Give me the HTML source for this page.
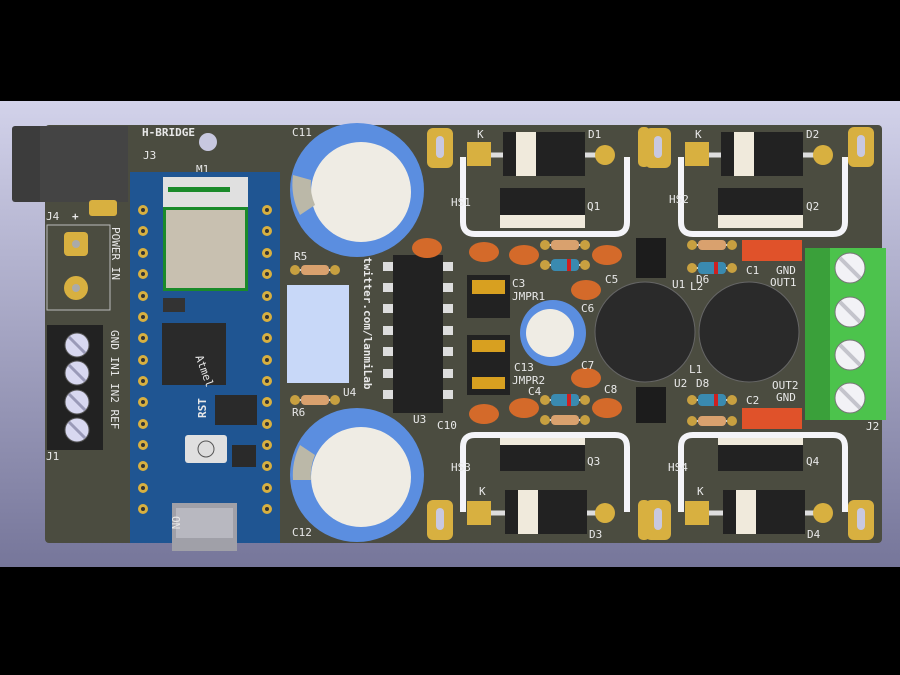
<!DOCTYPE html>
<html><head><meta charset="utf-8"><style>
html,body{margin:0;padding:0;background:#000;}
svg{display:block}
text{font-family:"DejaVu Sans Mono","Liberation Mono",monospace;fill:#e8e8e8;font-size:11px}
</style></head><body>
<svg width="900" height="675" viewBox="0 0 900 675" xmlns="http://www.w3.org/2000/svg">
<defs>
<linearGradient id="bg" x1="0" y1="0" x2="0" y2="1">
<stop offset="0" stop-color="#d2d2ea"/><stop offset="1" stop-color="#76769a"/></linearGradient>
<g id="scr"><circle r="12" fill="#d8d8f0" stroke="#555" stroke-width="1"/><line x1="-8" y1="-8" x2="8" y2="8" stroke="#9a9ab8" stroke-width="3"/></g>
<g id="wscr"><circle r="15" fill="#f2f2f6" stroke="#777" stroke-width="1"/><line x1="-10" y1="-10" x2="10" y2="10" stroke="#c4c4cc" stroke-width="4"/></g>
<g id="res"><line x1="-22" y1="0" x2="22" y2="0" stroke="#ccc" stroke-width="2"/><circle cx="-20" r="5" fill="#c8a040"/><circle cx="20" r="5" fill="#c8a040"/><rect x="-14" y="-5" width="28" height="10" rx="4" fill="#d9a16e"/></g>
<g id="dio"><line x1="-22" y1="0" x2="22" y2="0" stroke="#ccc" stroke-width="2"/><circle cx="-20" r="5" fill="#c8a040"/><circle cx="20" r="5" fill="#c8a040"/><rect x="-14" y="-6" width="28" height="12" rx="4" fill="#3a8ab0"/><rect x="2" y="-6" width="4" height="12" fill="#d02020"/></g>
<g id="cer"><ellipse rx="15" ry="10" fill="#d46a2a"/></g>
<g id="pin"><circle r="5" fill="#d8b040"/><circle r="2" fill="#333"/></g>
<g id="cellT">
<rect x="427" y="128" width="26" height="40" rx="6" fill="#d8b040"/><rect x="436" y="136" width="8" height="22" rx="4" fill="#c8c8e0"/>
<line x1="478" y1="155" x2="605" y2="155" stroke="#ddd" stroke-width="5"/>
<rect x="467" y="142" width="24" height="24" fill="#d8b040"/><circle cx="605" cy="155" r="10" fill="#d8b040"/>
<rect x="503" y="132" width="82" height="44" fill="#222"/><rect x="516" y="132" width="20" height="44" fill="#f0eadc"/>
<rect x="500" y="188" width="85" height="27" fill="#222"/><rect x="500" y="215" width="85" height="13" fill="#f0eadc"/>
<path d="M463,157 V222 Q463,234 475,234 H615 Q627,234 627,222 V157" fill="none" stroke="#f4f4f8" stroke-width="6"/>
<rect x="638" y="127" width="12" height="40" rx="5" fill="#d8b040"/>
</g>
<g id="cellB">
<rect x="427" y="500" width="26" height="40" rx="6" fill="#d8b040"/><rect x="436" y="508" width="8" height="22" rx="4" fill="#c8c8e0"/>
<line x1="478" y1="513" x2="605" y2="513" stroke="#ddd" stroke-width="5"/>
<rect x="467" y="501" width="24" height="24" fill="#d8b040"/><circle cx="605" cy="513" r="10" fill="#d8b040"/>
<rect x="505" y="490" width="82" height="44" fill="#222"/><rect x="518" y="490" width="20" height="44" fill="#f0eadc"/>
<rect x="500" y="444" width="85" height="27" fill="#222"/><rect x="500" y="434" width="85" height="11" fill="#f0eadc"/>
<path d="M463,512 V447 Q463,435 475,435 H615 Q627,435 627,447 V512" fill="none" stroke="#f4f4f8" stroke-width="6"/>
<rect x="638" y="500" width="12" height="40" rx="5" fill="#d8b040"/>
</g>
</defs>
<rect width="900" height="675" fill="#000"/>
<rect x="0" y="101" width="900" height="466" fill="url(#bg)"/>
<!-- board -->
<rect x="45" y="125" width="837" height="418" rx="4" fill="#4b4c40"/>
<!-- DC jack -->
<rect x="12" y="126" width="116" height="76" rx="3" fill="#3c3c3c"/>
<rect x="40" y="126" width="88" height="76" fill="#444"/>
<rect x="89" y="200" width="28" height="16" rx="3" fill="#d8b040"/>
<text x="142" y="136" font-weight="bold">H-BRIDGE</text>
<circle cx="208" cy="142" r="9" fill="#c8c8e0"/>
<text x="143" y="159">J3</text><text x="196" y="173">M1</text>
<!-- J4 -->
<rect x="47" y="225" width="63" height="85" fill="none" stroke="#bbb" stroke-width="1"/>
<text x="46" y="220">J4</text><text x="72" y="220" font-weight="bold">+</text>
<rect x="64" y="232" width="24" height="24" rx="4" fill="#d8b040"/><circle cx="76" cy="244" r="4" fill="#aaa"/>
<circle cx="76" cy="288" r="12" fill="#d8b040"/><circle cx="76" cy="288" r="4" fill="#aaa"/>
<text transform="translate(112,227) rotate(90)" font-size="12">POWER IN</text>
<!-- J1 -->
<rect x="47" y="325" width="56" height="125" fill="#222"/>
<use href="#scr" x="77" y="345"/><use href="#scr" x="77" y="373"/><use href="#scr" x="77" y="402"/><use href="#scr" x="77" y="430"/>
<text transform="translate(111,330) rotate(90)" font-size="12">GND IN1 IN2 REF</text>
<text x="46" y="460">J1</text>
<!-- Arduino -->
<rect x="130" y="172" width="150" height="371" fill="#1f5592"/>
<g id="pcol">
<use href="#pin" x="143" y="210"/><use href="#pin" x="143" y="231"/><use href="#pin" x="143" y="253"/><use href="#pin" x="143" y="274"/><use href="#pin" x="143" y="296"/><use href="#pin" x="143" y="317"/><use href="#pin" x="143" y="338"/><use href="#pin" x="143" y="360"/><use href="#pin" x="143" y="381"/><use href="#pin" x="143" y="402"/><use href="#pin" x="143" y="424"/><use href="#pin" x="143" y="445"/><use href="#pin" x="143" y="466"/><use href="#pin" x="143" y="488"/><use href="#pin" x="143" y="509"/>
</g>
<use href="#pcol" x="124"/>
<rect x="163" y="177" width="85" height="30" fill="#e0e0e0"/><rect x="168" y="187" width="62" height="5" fill="#1a8a2a"/>
<rect x="163" y="207" width="85" height="84" fill="#1a8a2a"/><rect x="166" y="210" width="79" height="78" fill="#c8c0b0"/>
<rect x="162" y="323" width="64" height="62" fill="#2a2a2a"/>
<text x="200" y="360" font-size="10" fill="#888" transform="rotate(70 200 355)">Atmel</text>
<rect x="215" y="395" width="42" height="30" fill="#2a2a2a"/>
<rect x="185" y="435" width="42" height="28" rx="3" fill="#e0e0e0"/><circle cx="206" cy="449" r="8" fill="#ddd" stroke="#555"/>
<rect x="232" y="445" width="24" height="22" fill="#2a2a2a"/>
<rect x="163" y="298" width="22" height="14" fill="#333"/>
<rect x="172" y="503" width="65" height="48" fill="#a0a0a8"/><rect x="176" y="508" width="57" height="30" fill="#b8b8c0"/>
<text transform="translate(206,418) rotate(-90)" font-size="11" font-weight="bold">RST</text>
<text transform="translate(172,516) rotate(90)" font-size="10">ON</text>
<!-- C11 C12 -->
<text x="292" y="136">C11</text>
<circle cx="357" cy="190" r="67" fill="#5b8ee0"/><circle cx="361" cy="192" r="50" fill="#efece4"/>
<path d="M293,175 A67,67 0 0,0 300,215 L315,205 A50,50 0 0,1 311,180Z" fill="#bbb8a8"/>
<text x="292" y="536">C12</text>
<circle cx="357" cy="475" r="67" fill="#5b8ee0"/><circle cx="361" cy="477" r="50" fill="#efece4"/>
<path d="M300,445 A67,67 0 0,0 293,480 L311,480 A50,50 0 0,1 315,455Z" fill="#bbb8a8"/>
<text x="294" y="260">R5</text><use href="#res" x="315" y="270"/>
<text x="292" y="416">R6</text><use href="#res" x="315" y="400"/>
<rect x="287" y="285" width="62" height="98" fill="#c8d8f8"/>
<text x="343" y="396">U4</text>
<text transform="translate(364,257) rotate(90)" font-size="14" font-weight="bold">twitter.com/lanmiLab</text>
<!-- U3 -->
<rect x="393" y="255" width="50" height="158" fill="#222"/>
<g fill="#ddd"><rect x="383" y="262" width="10" height="9"/><rect x="383" y="283" width="10" height="9"/><rect x="383" y="304" width="10" height="9"/><rect x="383" y="326" width="10" height="9"/><rect x="383" y="347" width="10" height="9"/><rect x="383" y="369" width="10" height="9"/><rect x="383" y="390" width="10" height="9"/>
<rect x="443" y="262" width="10" height="9"/><rect x="443" y="283" width="10" height="9"/><rect x="443" y="304" width="10" height="9"/><rect x="443" y="326" width="10" height="9"/><rect x="443" y="347" width="10" height="9"/><rect x="443" y="369" width="10" height="9"/><rect x="443" y="390" width="10" height="9"/></g>
<text x="413" y="423">U3</text>
<use href="#cer" x="427" y="248"/><use href="#cer" x="484" y="252"/><use href="#cer" x="484" y="414"/>
<text x="437" y="429">C10</text>
<!-- jumpers -->
<rect x="467" y="275" width="43" height="43" fill="#222"/><rect x="472" y="280" width="33" height="14" fill="#d8a020"/>
<rect x="467" y="335" width="43" height="60" fill="#222"/><rect x="472" y="340" width="33" height="12" fill="#d8a020"/><rect x="472" y="377" width="33" height="12" fill="#d8a020"/>
<text x="512" y="287">C3</text><text x="512" y="300">JMPR1</text>
<text x="514" y="371">C13</text><text x="512" y="384">JMPR2</text><text x="528" y="395">C4</text>
<circle cx="553" cy="333" r="33" fill="#5b8ee0"/><circle cx="550" cy="333" r="24" fill="#efece4"/>
<use href="#cer" x="524" y="255"/><use href="#cer" x="607" y="255"/><use href="#cer" x="586" y="290"/>
<use href="#cer" x="586" y="378"/><use href="#cer" x="524" y="408"/><use href="#cer" x="607" y="408"/>
<use href="#res" x="565" y="245"/><use href="#dio" x="565" y="265"/>
<use href="#dio" x="565" y="400"/><use href="#res" x="565" y="420"/>
<text x="605" y="283">C5</text><text x="581" y="312">C6</text><text x="581" y="369">C7</text><text x="604" y="393">C8</text>
<!-- U1 U2 -->
<rect x="636" y="238" width="30" height="40" fill="#1c1c1c"/><rect x="636" y="387" width="30" height="36" fill="#1c1c1c"/>
<circle cx="645" cy="332" r="50" fill="#2a2a2a" stroke="#666"/><circle cx="749" cy="332" r="50" fill="#2a2a2a" stroke="#666"/>
<text x="672" y="288">U1</text><text x="690" y="290">L2</text><text x="689" y="373">L1</text><text x="674" y="387">U2</text><text x="696" y="387">D8</text>
<text x="696" y="283">D6</text>
<use href="#res" x="712" y="245"/><use href="#dio" x="712" y="268"/>
<use href="#dio" x="712" y="400"/><use href="#res" x="712" y="421"/>
<rect x="742" y="240" width="60" height="21" fill="#e0522a"/><rect x="742" y="408" width="60" height="21" fill="#e0522a"/>
<text x="746" y="274">C1</text><text x="746" y="404">C2</text>
<text x="776" y="274">GND</text><text x="770" y="286">OUT1</text>
<text x="772" y="389">OUT2</text><text x="776" y="401">GND</text>
<!-- J2 -->
<rect x="805" y="248" width="81" height="172" fill="#4cc34c"/><rect x="805" y="248" width="25" height="172" fill="#3aa03a"/>
<use href="#wscr" x="850" y="268"/><use href="#wscr" x="850" y="312"/><use href="#wscr" x="850" y="355"/><use href="#wscr" x="850" y="398"/>
<text x="866" y="430">J2</text>
<!-- heatsink cells -->
<use href="#cellT"/><use href="#cellT" x="218"/>
<rect x="848" y="127" width="26" height="40" rx="6" fill="#d8b040"/><rect x="857" y="135" width="8" height="22" rx="4" fill="#c8c8e0"/>
<use href="#cellB"/><use href="#cellB" x="218"/>
<rect x="848" y="500" width="26" height="40" rx="6" fill="#d8b040"/><rect x="857" y="508" width="8" height="22" rx="4" fill="#c8c8e0"/>
<text x="477" y="138">K</text><text x="588" y="138">D1</text><text x="451" y="206">HS1</text><text x="587" y="210">Q1</text>
<text x="695" y="138">K</text><text x="806" y="138">D2</text><text x="669" y="203">HS2</text><text x="806" y="210">Q2</text>
<text x="479" y="495">K</text><text x="589" y="538">D3</text><text x="451" y="471">HS3</text><text x="587" y="465">Q3</text>
<text x="697" y="495">K</text><text x="807" y="538">D4</text><text x="668" y="471">HS4</text><text x="806" y="465">Q4</text>
</svg>
</body></html>
